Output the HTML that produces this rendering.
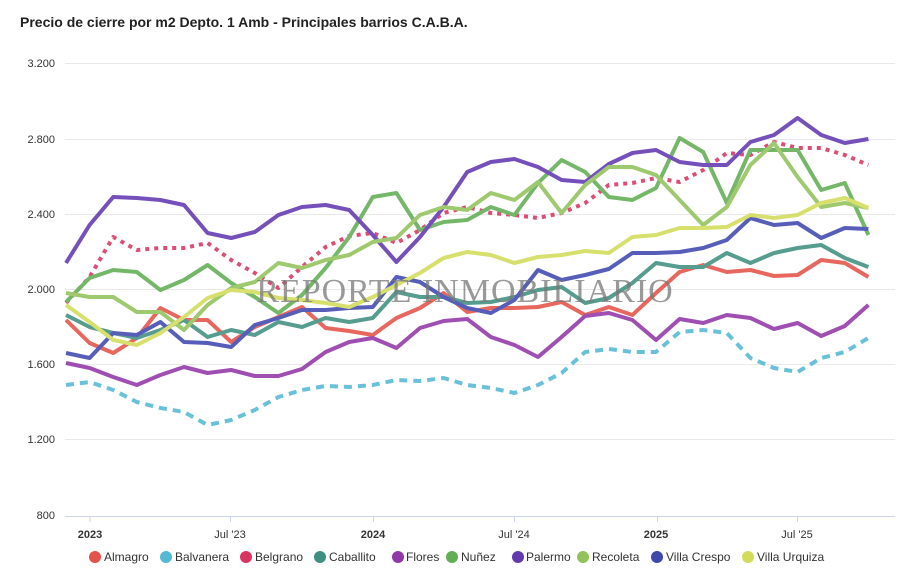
<!DOCTYPE html>
<html><head><meta charset="utf-8">
<style>
body{margin:0;background:#fff;width:900px;height:586px;overflow:hidden;font-family:"Liberation Sans",sans-serif;}
svg{display:block}
</style></head>
<body>
<svg id="c" width="900" height="586" viewBox="0 0 900 586" xmlns="http://www.w3.org/2000/svg" font-family="Liberation Sans, sans-serif">
<text x="20" y="27" font-size="14" font-weight="bold" fill="#222">Precio de cierre por m2 Depto. 1 Amb - Principales barrios C.A.B.A.</text>
<g stroke="#e9e9e9" stroke-width="1">
<line x1="65" x2="895" y1="63.5" y2="63.5"/>
<line x1="65" x2="895" y1="139.5" y2="139.5"/>
<line x1="65" x2="895" y1="214.5" y2="214.5"/>
<line x1="65" x2="895" y1="289.5" y2="289.5"/>
<line x1="65" x2="895" y1="364.5" y2="364.5"/>
<line x1="65" x2="895" y1="439.5" y2="439.5"/>
</g>
<line x1="65" x2="895" y1="516.5" y2="516.5" stroke="#ccd6eb" stroke-width="1"/>
<g stroke="#ccd6eb" stroke-width="1">
<line x1="90" x2="90" y1="516" y2="522"/><line x1="230.5" x2="230.5" y1="516" y2="522"/>
<line x1="373.5" x2="373.5" y1="516" y2="522"/><line x1="514.5" x2="514.5" y1="516" y2="522"/>
<line x1="657.5" x2="657.5" y1="516" y2="522"/><line x1="797.5" x2="797.5" y1="516" y2="522"/>
</g>
<g font-size="11" fill="#333" text-anchor="end">
<text x="55" y="67">3.200</text><text x="55" y="143">2.800</text><text x="55" y="218">2.400</text>
<text x="55" y="293">2.000</text><text x="55" y="368">1.600</text><text x="55" y="443">1.200</text>
<text x="55" y="519">800</text>
</g>
<g font-size="11" fill="#333" text-anchor="middle">
<text x="90" y="538" font-weight="bold">2023</text><text x="230" y="538">Jul '23</text>
<text x="373" y="538" font-weight="bold">2024</text><text x="514" y="538">Jul '24</text>
<text x="656" y="538" font-weight="bold">2025</text><text x="797" y="538">Jul '25</text>
</g>
<g id="series" fill="none" stroke-width="4" stroke-linejoin="round" opacity="0.88"></g>
<text x="465" y="302" font-family="Liberation Serif, serif" font-size="34" fill="#777" opacity="0.75" text-anchor="middle" letter-spacing="1">REPORTE INMOBILIARIO</text>
<g font-size="12" fill="#333">
<circle cx="95" cy="557" r="6" fill="#e4534a"/><text x="104" y="561">Almagro</text>
<circle cx="166" cy="557" r="6" fill="#55b9d4"/><text x="175" y="561">Balvanera</text>
<circle cx="246" cy="557" r="6" fill="#d9345f"/><text x="255" y="561">Belgrano</text>
<circle cx="320" cy="557" r="6" fill="#3f8f80"/><text x="329" y="561">Caballito</text>
<circle cx="398" cy="557" r="6" fill="#9237a8"/><text x="406" y="561">Flores</text>
<circle cx="452" cy="557" r="6" fill="#62ae55"/><text x="461" y="561">Nuñez</text>
<circle cx="518" cy="557" r="6" fill="#6239b1"/><text x="526" y="561">Palermo</text>
<circle cx="583" cy="557" r="6" fill="#92c25b"/><text x="592" y="561">Recoleta</text>
<circle cx="657" cy="557" r="6" fill="#4048b0"/><text x="666" y="561">Villa Crespo</text>
<circle cx="748" cy="557" r="6" fill="#d2dc5a"/><text x="757" y="561">Villa Urquiza</text>
</g>
</svg>
<script>
var S=[
["#e4534a","",[320,343,353,338,308,320,320,342,327,317,307,328,331,335,318,308,293,312,308,308,307,302,315,307,315,293,272,265,272,270,276,275,260,263,277]],
["#55b9d4","8 6",[385,382,390,402,408,412,425,420,410,397,390,386,387,385,380,381,378,385,388,393,385,373,352,349,352,352,332,330,333,358,368,372,358,352,338]],
["#d9345f","4 5",[303,277,237,250,248,248,243,260,273,288,267,247,236,233,243,230,213,207,213,215,218,213,203,185,183,178,182,170,153,155,142,148,148,155,165]],
["#3f8f80","",[315,327,333,338,330,320,337,330,335,322,327,318,322,318,292,297,297,303,302,297,290,287,303,298,283,263,267,267,253,263,253,248,245,258,267]],
["#9237a8","",[363,368,377,385,375,367,373,370,376,376,369,352,342,338,348,328,321,319,337,345,357,337,316,313,320,340,319,323,315,318,329,323,336,326,305]],
["#62ae55","",[302,278,270,272,290,280,265,283,297,313,295,268,237,197,193,230,222,220,207,215,183,160,172,197,200,188,138,152,203,150,150,150,190,183,235]],
["#6239b1","",[263,225,197,198,200,205,233,238,232,215,207,205,210,235,262,237,207,172,162,159,167,180,182,164,153,150,162,165,165,142,135,118,135,143,139]],
["#92c25b","",[293,297,297,312,312,330,305,288,282,263,268,260,255,242,238,215,207,210,193,200,182,213,185,167,167,175,200,225,207,165,143,177,207,203,208]],
["#4048b0","",[353,358,333,335,322,342,343,347,325,318,310,310,308,307,277,282,297,308,313,300,270,280,275,269,253,253,252,248,240,218,225,223,238,228,229]],
["#d2dc5a","",[305,322,340,345,333,317,298,290,292,298,300,303,307,297,285,273,258,252,255,263,257,255,251,253,237,235,228,228,227,215,218,215,203,198,208]]
];
var g=document.getElementById('series'),ns="http://www.w3.org/2000/svg";
S.forEach(function(s){var p=document.createElementNS(ns,'polyline');
p.setAttribute('points',s[2].map(function(y,i){return (66+23.6*i).toFixed(1)+','+y}).join(' '));
p.setAttribute('stroke',s[0]);if(s[1])p.setAttribute('stroke-dasharray',s[1]);g.appendChild(p);});
</script>
</body></html>
